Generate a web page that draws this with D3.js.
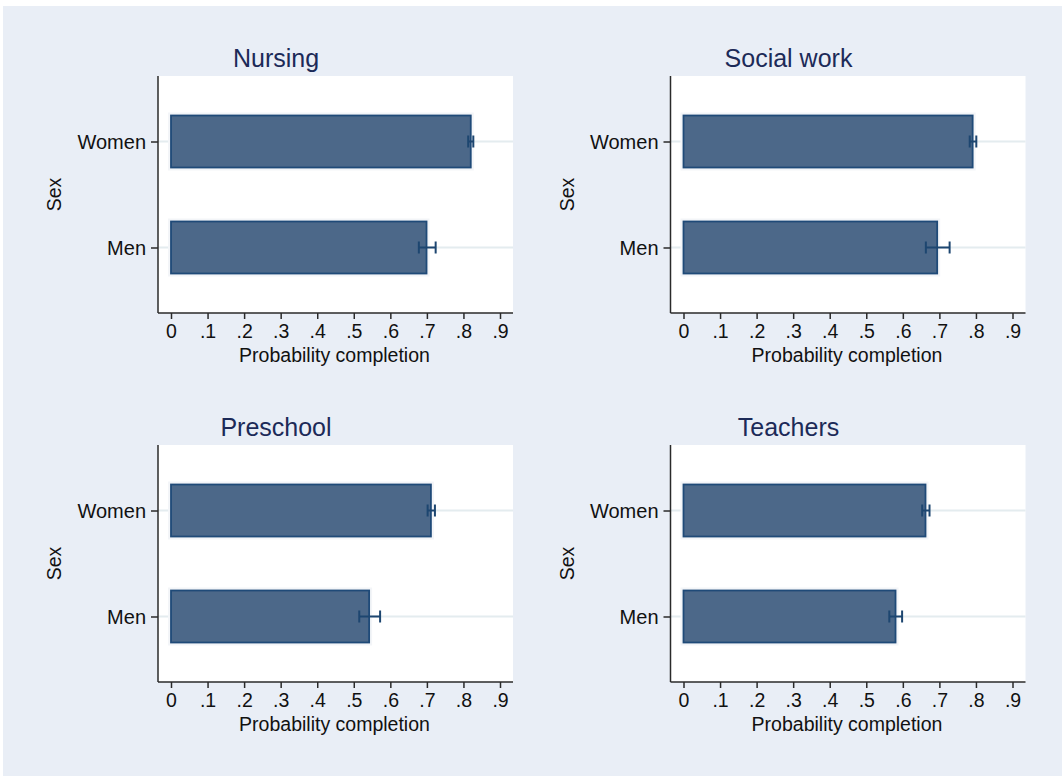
<!DOCTYPE html>
<html lang="en">
<head>
<meta charset="UTF-8">
<title>Probability completion by sex</title>
<script src="https://d3js.org/d3.v7.min.js"></script>
<style>
    body { margin: 0; background: #fff; font-family: 'Liberation Sans', Arial, sans-serif; }
    .tick text { font-family: 'Liberation Sans', Arial, sans-serif; fill: #111; }
    .panel-title { font-size: 25px; fill: #1c2a58; }
    .axis-title { font-size: 19.5px; fill: #111; }
</style>
</head>
<body>
<svg id="chart"></svg>
<script>
// data
const fields = ["Nursing", "Social work", "Preschool", "Teachers"];
const sexes = ["Women", "Men"];
const probWomen = [0.820, 0.791, 0.711, 0.662];
const probMen = [0.699, 0.694, 0.542, 0.580];
const ciWomenLow = [0.813, 0.783, 0.702, 0.653];
const ciWomenHigh = [0.827, 0.801, 0.722, 0.673];
const ciMenLow = [0.678, 0.663, 0.515, 0.563];
const ciMenHigh = [0.724, 0.728, 0.572, 0.598];
const xTicks = [0, .1, .2, .3, .4, .5, .6, .7, .8, .9];
const xTickLabels = ["0", ".1", ".2", ".3", ".4", ".5", ".6", ".7", ".8", ".9"];

const W = 1062, H = 776;
const svg = d3.select("#chart").attr("width", W).attr("height", H);

// stata-ish background
svg.append("rect").attr("x", 3).attr("y", 6).attr("width", W - 3).attr("height", H - 6)
    .attr("fill", "#e9eef6");

const plotW = 355, plotH = 237;
const origins = [[158, 76], [670.5, 76], [158, 445], [670.5, 445]];

const x = d3.scaleLinear().domain([0, 0.9]).range([13, 342]);
const y = d3.scalePoint().domain(sexes).range([0, plotH]).padding(0.618);
const barH = 52;

fields.forEach((field, i) => {
    const g = svg.append("g").attr("transform", `translate(${origins[i][0]},${origins[i][1]})`);
    const rows = [
        { sex: "Women", p: probWomen[i], lo: ciWomenLow[i], hi: ciWomenHigh[i] },
        { sex: "Men", p: probMen[i], lo: ciMenLow[i], hi: ciMenHigh[i] }
    ];

    g.append("rect").attr("width", plotW).attr("height", plotH).attr("fill", "#fff");

    // grid lines
    g.selectAll(".grid").data(sexes).enter().append("line")
        .attr("x1", 0).attr("x2", plotW)
        .attr("y1", d => y(d)).attr("y2", d => y(d))
        .attr("stroke", "#e4ecef").attr("stroke-width", 2);

    // bars
    g.selectAll(".halo").data(rows).enter().append("rect")
        .attr("x", x(0) - 3).attr("y", d => y(d.sex) - barH / 2 - 3)
        .attr("width", d => x(d.p) - x(0) + 6).attr("height", barH + 6)
        .attr("fill", "#f3f5f8");
    g.selectAll(".bar").data(rows).enter().append("rect")
        .attr("x", x(0)).attr("y", d => y(d.sex) - barH / 2)
        .attr("width", d => x(d.p) - x(0)).attr("height", barH)
        .attr("fill", "#4c6889").attr("stroke", "#1f4a78").attr("stroke-width", 1.8);

    // confidence intervals
    const ci = g.selectAll(".ci").data(rows).enter().append("g").attr("stroke", "#1d4670").attr("stroke-width", 2);
    ci.append("line").attr("x1", d => x(d.lo)).attr("x2", d => x(d.hi))
        .attr("y1", d => y(d.sex)).attr("y2", d => y(d.sex));
    ci.append("line").attr("x1", d => x(d.lo)).attr("x2", d => x(d.lo))
        .attr("y1", d => y(d.sex) - 6).attr("y2", d => y(d.sex) + 6);
    ci.append("line").attr("x1", d => x(d.hi)).attr("x2", d => x(d.hi))
        .attr("y1", d => y(d.sex) - 6).attr("y2", d => y(d.sex) + 6);

    // axes
    const xAxis = g.append("g").attr("transform", `translate(0,${plotH})`)
        .call(d3.axisBottom(x).tickValues(xTicks).tickFormat((d, k) => xTickLabels[k])
            .tickSize(6).tickSizeOuter(0).tickPadding(5));
    xAxis.select(".domain").attr("d", `M0,0H${plotW}`);
    xAxis.selectAll(".tick text").attr("font-size", 19.5);

    const yAxis = g.append("g")
        .call(d3.axisLeft(y).tickSize(7).tickSizeOuter(0).tickPadding(5));
    yAxis.select(".domain").attr("d", `M0,0V${plotH}`);
    yAxis.selectAll(".tick text").attr("font-size", 20).attr("dy", "0.36em");

    g.selectAll(".domain, .tick line").attr("stroke", "#2a2a2a").attr("stroke-width", 1.5);

    // titles
    g.append("text").attr("class", "panel-title")
        .attr("x", 118).attr("y", -9).attr("text-anchor", "middle").text(field);
    g.append("text").attr("class", "axis-title")
        .attr("x", plotW / 2 - 1).attr("y", plotH + 49).attr("text-anchor", "middle")
        .text("Probability completion");
    g.append("text").attr("class", "axis-title")
        .attr("transform", `translate(-97,${(y("Women") + y("Men")) / 2}) rotate(-90)`)
        .attr("text-anchor", "middle").text("Sex");
});
</script>
</body>
</html>
